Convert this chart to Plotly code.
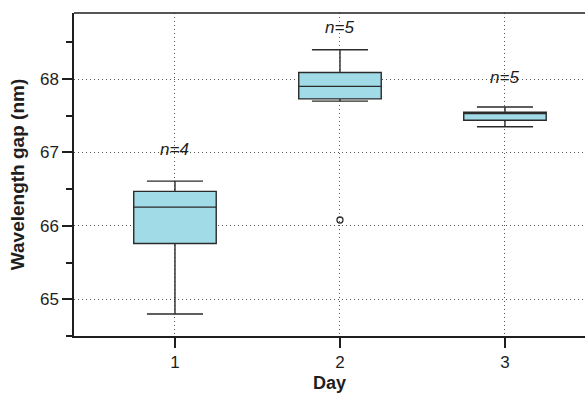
import plotly.graph_objects as go

days = [1, 2, 3]
q1 = [65.76, 67.73, 67.44]
median = [66.255, 67.90, 67.53]
q3 = [66.47, 68.09, 67.55]
lower = [64.80, 67.70, 67.35]
upper = [66.61, 68.40, 67.62]
outlier_x = [2]
outlier_y = [66.08]
n_labels = ["n=4", "n=5", "n=5"]
n_label_y = [67.04, 68.70, 68.02]

FONT = "Liberation Sans"
INK = "#1e1e1e"

fig = go.Figure()
fig.add_trace(go.Box(
    x=days, q1=q1, median=median, q3=q3, lowerfence=lower, upperfence=upper,
    width=0.5, whiskerwidth=0.68, boxpoints=False,
    fillcolor="#a2dbe8", line=dict(color="#2b2b2b", width=1.4),
    showlegend=False,
))
fig.add_trace(go.Scatter(
    x=outlier_x, y=outlier_y, mode="markers",
    marker=dict(symbol="circle-open", size=6, color="#2b2b2b", line=dict(width=1.3)),
    showlegend=False,
))
for xd, yd, t in zip(days, n_label_y, n_labels):
    fig.add_annotation(x=xd, y=yd, text=f"<i>{t}</i>", showarrow=False,
                       font=dict(size=17, color=INK, family=FONT))

# top frame line (no right-hand border in the reference)
fig.add_shape(type="line", xref="paper", yref="paper", x0=0, x1=1, y0=1, y1=1,
              line=dict(color=INK, width=1.5))

axis_common = dict(
    showline=True, linecolor=INK, linewidth=1.5, mirror=False,
    ticks="outside", ticklen=10, tickwidth=1.5, tickcolor=INK,
    showgrid=True, gridcolor="#555", griddash="1px,3px", gridwidth=1,
    zeroline=False,
    tickfont=dict(size=17, color=INK, family=FONT),
)
fig.update_xaxes(range=[0.388, 3.485], tickvals=days, ticktext=[str(d) for d in days],
                 title=dict(text="<b>Day</b>", font=dict(size=18, color=INK, family=FONT), standoff=8),
                 **axis_common)
fig.update_yaxes(range=[64.5, 68.9], tickvals=[65, 66, 67, 68],
                 minor=dict(dtick=0.5, tick0=64.5, ticks="outside", ticklen=6, tickcolor=INK, tickwidth=1.5, showgrid=False),
                 title=dict(text="<b>Wavelength gap (nm)</b>", font=dict(size=19, color=INK, family=FONT), standoff=10),
                 **axis_common)
fig.update_layout(
    width=585, height=393,
    margin=dict(l=74, r=0, t=13, b=57),
    plot_bgcolor="white", paper_bgcolor="white",
)
fig.write_html("out.html", config={"displayModeBar": False})
